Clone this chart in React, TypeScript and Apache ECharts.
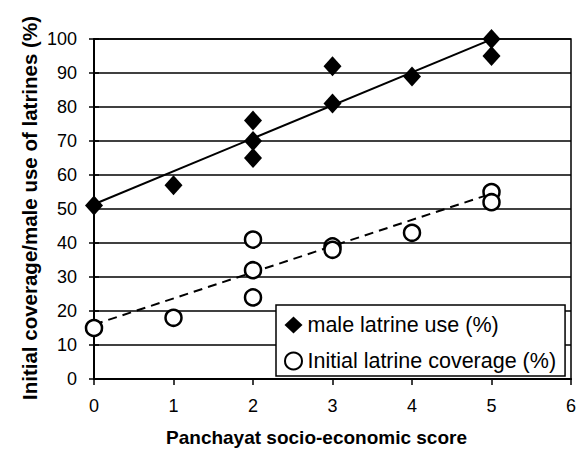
import React, { useEffect, useRef } from "react";
import * as echarts from "echarts";

const maleX = [0, 1, 2, 2, 2, 3, 3, 4, 5, 5];
const maleY = [51, 57, 76, 70, 65, 92, 81, 89, 100, 95];
const coverX = [0, 1, 2, 2, 2, 3, 3, 4, 5, 5];
const coverY = [15, 18, 41, 32, 24, 39, 38, 43, 55, 52];
const maleTrendX = [0, 5];
const maleTrendY = [51.4, 99.9];
const coverTrendX = [0, 5];
const coverTrendY = [16, 54.5];
const maleName = "male latrine use (%)";
const coverName = "Initial latrine coverage (%)";
const xTitle = "Panchayat socio-economic score";
const yTitle = "Initial coverage/male use of latrines (%)";

const FONT = "'Liberation Sans', Arial, sans-serif";

export default function App() {
  const ref = useRef<HTMLDivElement>(null);
  useEffect(() => {
    if (!ref.current) return;
    const chart = echarts.init(ref.current, null, { renderer: "svg" });
    const pair = (xs: number[], ys: number[]) => xs.map((x, i) => [x, ys[i]]);
    chart.setOption({
      animation: false,
      backgroundColor: "#fff",
      textStyle: { fontFamily: FONT, color: "#000" },
      grid: {
        left: 94,
        right: 11,
        top: 39,
        bottom: 72,
        show: true,
        borderColor: "#000",
        borderWidth: 1.5,
      },
      graphic: [
        {
          type: "text",
          x: 29,
          y: 208,
          rotation: Math.PI / 2,
          style: {
            text: yTitle,
            fontFamily: FONT,
            fontSize: 20.5,
            fontWeight: "bold",
            fill: "#000",
            textAlign: "center",
            textVerticalAlign: "middle",
          },
        },
      ],
      xAxis: {
        type: "value",
        min: 0,
        max: 6,
        interval: 1,
        name: xTitle,
        nameLocation: "middle",
        nameGap: 49,
        nameTextStyle: {
          fontFamily: FONT,
          fontSize: 19,
          fontWeight: "bold",
          color: "#000",
          padding: [0, 32, 0, 0],
        },
        axisLine: { show: true, lineStyle: { color: "#000", width: 2 } },
        axisTick: { show: true, length: 6, lineStyle: { color: "#000", width: 1.5 } },
        axisLabel: { fontFamily: FONT, fontSize: 18, color: "#000", margin: 18 },
        splitLine: { show: false },
      },
      yAxis: [
        {
          type: "value",
          min: 0,
          max: 100,
          interval: 10,
          axisLine: { show: true, lineStyle: { color: "#000", width: 2 } },
          axisTick: { show: true, length: 5, lineStyle: { color: "#000", width: 1.5 } },
          axisLabel: { fontFamily: FONT, fontSize: 18, color: "#000", margin: 17 },
          splitLine: { show: true, lineStyle: { color: "#000", width: 1.5 } },
        },
        {
          type: "value",
          position: "left",
          min: 0,
          max: 100,
          interval: 10,
          axisLine: { show: false },
          axisTick: { show: true, inside: true, length: 5, lineStyle: { color: "#000", width: 1.5 } },
          axisLabel: { show: false },
          splitLine: { show: false },
        },
      ],
      legend: {
        orient: "vertical",
        left: 276,
        top: 305,
        data: [maleName, coverName],
        itemWidth: 18,
        itemHeight: 17,
        itemGap: 14,
        padding: [9, 9, 4, 8],
        borderColor: "#000",
        borderWidth: 1.5,
        borderRadius: 0,
        backgroundColor: "#fff",
        textStyle: { fontFamily: FONT, fontSize: 21.5, color: "#000" },
      },
      series: [
        {
          type: "line",
          name: "maleTrend",
          data: pair(maleTrendX, maleTrendY),
          showSymbol: false,
          symbol: "none",
          lineStyle: { color: "#000", width: 2 },
          z: 2,
        },
        {
          type: "line",
          name: "coverTrend",
          data: pair(coverTrendX, coverTrendY),
          showSymbol: false,
          symbol: "none",
          lineStyle: { color: "#000", width: 2, type: [9, 6] },
          z: 2,
        },
        {
          type: "scatter",
          name: maleName,
          data: pair(maleX, maleY),
          symbol: "diamond",
          symbolSize: [18, 20],
          itemStyle: { color: "#000", opacity: 1 },
          z: 3,
        },
        {
          type: "scatter",
          name: coverName,
          data: pair(coverX, coverY),
          symbol: "circle",
          symbolSize: 16,
          itemStyle: { color: "#fff", borderColor: "#000", borderWidth: 2.5, opacity: 1 },
          z: 3,
        },
      ],
    });
    return () => chart.dispose();
  }, []);
  return (
    <div
      ref={ref}
      style={{ position: "absolute", left: 0, top: 0, width: 582, height: 452 }}
    />
  );
}
